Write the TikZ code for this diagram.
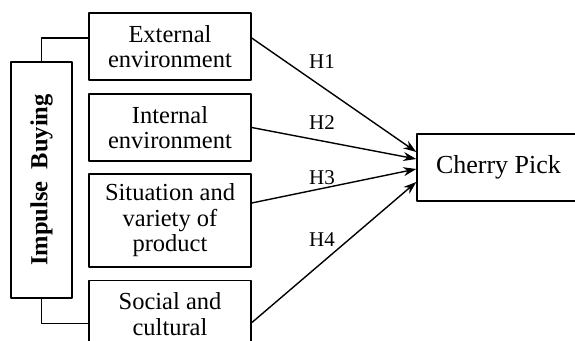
\documentclass[tikz,border=0pt]{standalone}
\usepackage{fontspec}
\setmainfont{Liberation Serif}
\usetikzlibrary{arrows.meta}
\begin{document}
\begin{tikzpicture}[x=1pt,y=-1pt,line join=round,line width=1.4pt,>={Stealth[length=13pt,width=9pt]},
	box/.style={draw,align=center,minimum width=162pt,minimum height=67pt,inner sep=2pt,font=\fontsize{24.5}{25.5}\selectfont},
	hyp/.style={font=\fontsize{21}{24}\selectfont}]
	\useasboundingbox (0,0) rectangle (575,340);
	\node[box] (ext) at (170,46.5) {External\\environment};
	\node[box] (int) at (170,127.5) {Internal\\environment};
	\node[box,minimum height=93pt] (sit) at (170,220.5) {Situation and\\variety of\\product};
	\node[box,anchor=north] (soc) at (170,280) {Social and\\cultural};
	\node[box,minimum width=236pt,minimum height=61pt,rotate=90,font=\fontsize{24.5}{25.5}\selectfont\bfseries] (imp) at (41.5,180) {Impulse\ \ Buying};
	\node[box,minimum width=163pt,font=\fontsize{26}{28}\selectfont] (cp) at (498.5,167.5) {Cherry Pick};
	\draw (imp.east) |- ([yshift=8.5pt]ext.west);
	\draw (imp.west) |- ([yshift=-9.5pt]soc.west);
	\draw[->] ([yshift=8.5pt]ext.east) -- ([yshift=15.5pt]cp.west);
	\draw[->] (int.east) -- ([yshift=8.5pt]cp.west);
	\draw[->] ([yshift=17.5pt]sit.east) -- ([yshift=-1.5pt]cp.west);
	\draw[->] ([yshift=-8.5pt]soc.east) -- ([yshift=-14.5pt]cp.west);
	\node[hyp] (h1) at (322,62) {H1};
	\node[hyp] (h2) at (322,123) {H2};
	\node[hyp] (h3) at (322,178) {H3};
	\node[hyp] (h4) at (322,240) {H4};
\end{tikzpicture}
\end{document}
